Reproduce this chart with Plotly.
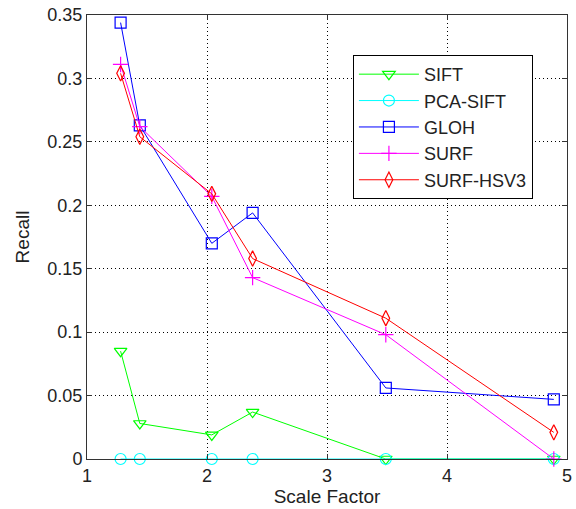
import plotly.graph_objects as go

scale = [1.28, 1.44, 2.04, 2.38, 3.49, 4.89]
sift = [0.085, 0.028, 0.019, 0.037, 0.0, 0.0]
pca_sift = [0.0, 0.0, 0.0, 0.0, 0.0, 0.0]
gloh = [0.344, 0.263, 0.170, 0.194, 0.056, 0.047]
surf = [0.311, 0.262, 0.207, 0.143, 0.098, 0.0]
surf_hsv3 = [0.304, 0.254, 0.209, 0.158, 0.111, 0.021]

series = [
    ("SIFT", sift, "#00ff00", "triangle-down-open"),
    ("PCA-SIFT", pca_sift, "#00ffff", "circle-open"),
    ("GLOH", gloh, "#0000ff", "square-open"),
    ("SURF", surf, "#ff00ff", "cross-thin-open"),
    ("SURF-HSV3", surf_hsv3, "#ff0000", "diamond-tall-open"),
]

fig = go.Figure()
for name, vals, color, sym in series:
    fig.add_trace(go.Scatter(
        x=scale, y=vals, name=name, mode="lines+markers", legendgroup=name,
        line=dict(color=color, width=1),
        marker=dict(symbol=sym, size=11, color=color, line=dict(color=color, width=1.2)),
        cliponaxis=False,
    ))

FONT = "Liberation Sans, Arial, sans-serif"
TXT = "#222222"
fig.update_layout(
    width=576, height=509,
    margin=dict(l=87, r=9, t=15, b=50),
    paper_bgcolor="white", plot_bgcolor="white",
    font=dict(family=FONT, size=18, color=TXT),
    showlegend=True,
    legend=dict(x=0.554, y=0.91, xanchor="left", yanchor="top",
                bordercolor="black", borderwidth=1, bgcolor="white",
                font=dict(family=FONT, size=18, color=TXT), tracegroupgap=0,
                itemwidth=60),
)
common = dict(showgrid=True, gridcolor="black", griddash="1px,3px", gridwidth=1,
              showline=True, linecolor="#333333", linewidth=1, mirror="ticks",
              ticks="inside", ticklen=5, tickcolor="#333333", zeroline=False,
              automargin=False, tickfont=dict(family=FONT, size=18, color=TXT))
fig.update_xaxes(range=[1, 5], dtick=1,
                 title=dict(text="Scale Factor", standoff=3, font=dict(size=19)), **common)
fig.update_yaxes(range=[0, 0.35], dtick=0.05, tickformat="~g",
                 title=dict(text="Recall", standoff=12, font=dict(size=19)), **common)
fig.write_html("out.html", config={"displayModeBar": False},
               post_script="document.body.style.margin='0';")
